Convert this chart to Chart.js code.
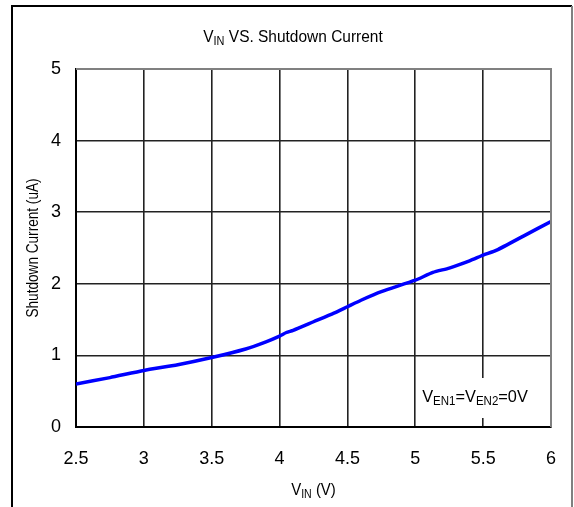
<!DOCTYPE html>
<html>
<head>
<meta charset="utf-8">
<script src="https://cdn.jsdelivr.net/npm/chart.js@4"></script>
<style>
  html, body { margin: 0; padding: 0; background: #fff; }
  #wrap { width: 574px; height: 507px; }
</style>
</head>
<body>
<div id="wrap"><canvas id="chart" width="574" height="507"></canvas></div>
<script>
// --- data ---
const vinValues = [2.5, 2.75, 3.0, 3.25, 3.5, 3.75, 3.9, 4.0, 4.05, 4.1, 4.25, 4.4, 4.5, 4.6, 4.75, 5.0, 5.13, 5.25, 5.4, 5.5, 5.6, 5.8, 6.0];
const currentValues = [0.60, 0.69, 0.79, 0.87, 0.97, 1.09, 1.19, 1.27, 1.32, 1.35, 1.47, 1.59, 1.68, 1.77, 1.89, 2.05, 2.16, 2.22, 2.32, 2.40, 2.47, 2.67, 2.87];
const xTicks = [2.5, 3, 3.5, 4, 4.5, 5, 5.5, 6];
const yTicks = [0, 1, 2, 3, 4, 5];

const FONT = "'Liberation Sans', Arial, sans-serif";

// draw text made of normal + subscript parts, centred on (x, y), squeezed horizontally by sx
function drawRich(ctx, parts, x, y, size, sx, rot) {
    const subSize = Math.round(size * 0.72);
    let total = 0;
    parts.forEach(p => {
        ctx.font = (p.sub ? subSize : size) + 'px ' + FONT;
        p.w = ctx.measureText(p.t).width;
        total += p.w;
    });
    ctx.save();
    ctx.translate(x, y);
    if (rot) ctx.rotate(rot);
    ctx.scale(sx, 1);
    let cx = -total / 2;
    ctx.textAlign = 'left';
    ctx.textBaseline = 'middle';
    ctx.fillStyle = '#000';
    parts.forEach(p => {
        ctx.font = (p.sub ? subSize : size) + 'px ' + FONT;
        ctx.fillText(p.t, cx, p.sub ? size * 0.25 : 0);
        cx += p.w;
    });
    ctx.restore();
}

const decorPlugin = {
    id: 'decor',
    beforeDatasetsDraw(chart) {
        const ctx = chart.ctx;
        const a = chart.chartArea;
        // white box behind the condition note
        ctx.save();
        ctx.fillStyle = '#fff';
        ctx.fillRect(a.right - 134, a.bottom - 49, 124, 40);
        ctx.restore();
    },
    afterDraw(chart) {
        const ctx = chart.ctx;
        const a = chart.chartArea;
        ctx.save();
        // top and right frame of plot area (grey)
        ctx.strokeStyle = '#808080';
        ctx.lineWidth = 2;
        ctx.beginPath();
        ctx.moveTo(a.left, a.top);
        ctx.lineTo(a.right, a.top);
        ctx.lineTo(a.right, a.bottom);
        ctx.stroke();
        // outer frame
        ctx.strokeStyle = '#000';
        ctx.beginPath();
        ctx.moveTo(12, 510);
        ctx.lineTo(12, 6);
        ctx.lineTo(572, 6);
        ctx.stroke();
        ctx.strokeStyle = '#808080';
        ctx.beginPath();
        ctx.moveTo(572, 6);
        ctx.lineTo(572, 510);
        ctx.stroke();
        ctx.restore();

        // title
        drawRich(ctx, [{t: 'V'}, {t: 'IN', sub: true}, {t: ' VS. Shutdown Current'}], 293, 37, 17, 0.91);
        // x axis title
        drawRich(ctx, [{t: 'V'}, {t: 'IN', sub: true}, {t: ' (V)'}], (a.left + a.right) / 2, 490, 17, 0.88);
        // y axis title
        drawRich(ctx, [{t: 'Shutdown Current (uA)'}], 33, (a.top + a.bottom) / 2, 17, 0.8, -Math.PI / 2);
        // condition note
        drawRich(ctx, [{t: 'V'}, {t: 'EN1', sub: true}, {t: '=V'}, {t: 'EN2', sub: true}, {t: '=0V'}], a.right - 76, a.bottom - 30, 17, 0.96);
    }
};

const ctx = document.getElementById('chart').getContext('2d');
new Chart(ctx, {
    type: 'line',
    data: {
        datasets: [{
            data: vinValues.map((v, i) => ({x: v, y: currentValues[i]})),
            borderColor: '#0000ff',
            borderWidth: 3.5,
            pointRadius: 0,
            tension: 0.2,
            fill: false
        }]
    },
    options: {
        responsive: false,
        animation: false,
        events: [],
        layout: { padding: { left: 0, right: 23, top: 69, bottom: 0 } },
        plugins: {
            legend: { display: false },
            tooltip: { enabled: false }
        },
        scales: {
            x: {
                type: 'linear',
                min: 2.5,
                max: 6,
                afterBuildTicks: axis => { axis.ticks = xTicks.map(v => ({value: v})); },
                afterFit: axis => { axis.height = 80; axis.paddingLeft = 0; axis.paddingRight = 0; },
                grid: { color: '#222', lineWidth: 1.6, drawTicks: false },
                border: { color: '#000', width: 2 },
                ticks: { color: '#000', padding: 21, font: { family: FONT, size: 18 }, callback: v => String(v) }
            },
            y: {
                min: 0,
                max: 5,
                afterBuildTicks: axis => { axis.ticks = yTicks.map(v => ({value: v})); },
                afterFit: axis => { axis.width = 76; axis.paddingTop = 0; axis.paddingBottom = 0; },
                grid: { color: '#222', lineWidth: 1.6, drawTicks: false },
                border: { color: '#000', width: 2 },
                ticks: { color: '#000', padding: 15, font: { family: FONT, size: 18 }, callback: v => String(v) }
            }
        }
    },
    plugins: [decorPlugin]
});
</script>
</body>
</html>
